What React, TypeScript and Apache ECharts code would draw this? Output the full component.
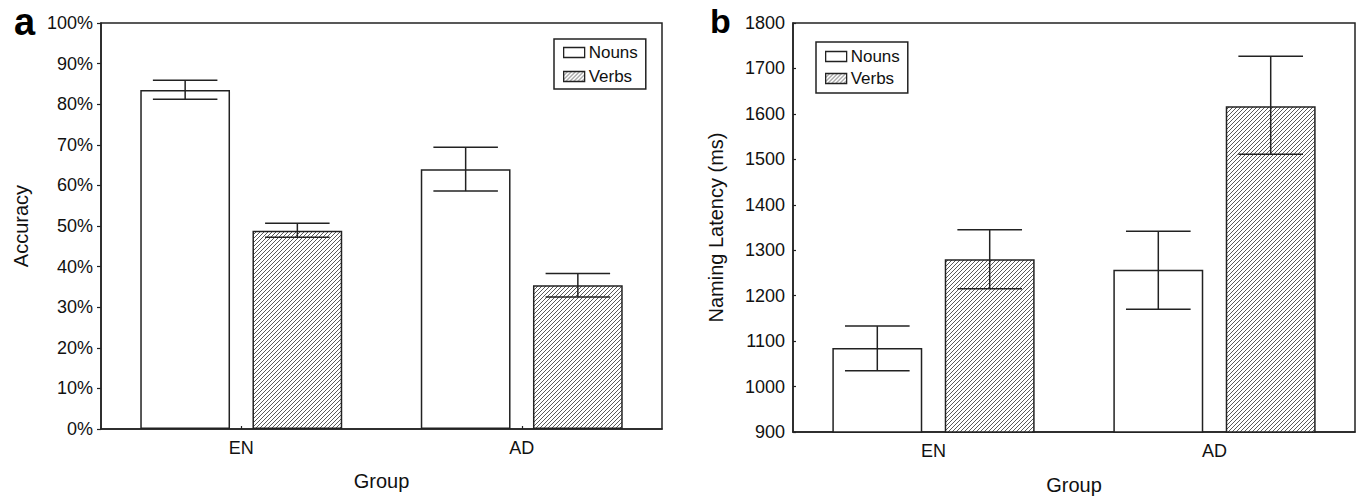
import React, { useEffect, useRef } from "react";
import * as echarts from "echarts";

const categories = ["EN", "AD"];
const seriesNames = ["Nouns", "Verbs"];

// Panel a: accuracy (%)
const accNouns = [83.5, 64.0];
const accNounsLow = [81.2, 58.6];
const accNounsHigh = [85.9, 69.4];
const accVerbs = [48.8, 35.4];
const accVerbsLow = [47.2, 32.5];
const accVerbsHigh = [50.7, 38.3];

// Panel b: naming latency (ms)
const latNouns = [1085, 1257];
const latNounsLow = [1035, 1170];
const latNounsHigh = [1133, 1342];
const latVerbs = [1280, 1617];
const latVerbsLow = [1215, 1511];
const latVerbsHigh = [1345, 1727];

const FONT = "'Liberation Sans', Arial, Helvetica, sans-serif";
const INK = "#222";
const TXT = "#111";

function makeHatch() {
  const c = document.createElement("canvas");
  const n = 4;
  c.width = n;
  c.height = n;
  const ctx = c.getContext("2d")!;
  ctx.fillStyle = "#ffffff";
  ctx.fillRect(0, 0, n, n);
  ctx.strokeStyle = "#5a5a5a";
  ctx.lineWidth = 1;
  ctx.beginPath();
  ctx.moveTo(0, n);
  ctx.lineTo(n, 0);
  ctx.moveTo(-1, 1);
  ctx.lineTo(1, -1);
  ctx.moveTo(n - 1, n + 1);
  ctx.lineTo(n + 1, n - 1);
  ctx.stroke();
  return c;
}

function errorRender(sign: number) {
  return (params: any, api: any) => {
    const idx = api.value(0);
    const lo = api.coord([idx, api.value(1)]);
    const hi = api.coord([idx, api.value(2)]);
    const band = api.size([1, 0])[0];
    const x = lo[0] + sign * 0.2 * band;
    const half = 0.115 * band;
    const style = { stroke: INK, lineWidth: 1.5 };
    return {
      type: "group",
      children: [
        { type: "line", shape: { x1: x, y1: lo[1], x2: x, y2: hi[1] }, style },
        { type: "line", shape: { x1: x - half, y1: lo[1], x2: x + half, y2: lo[1] }, style },
        { type: "line", shape: { x1: x - half, y1: hi[1], x2: x + half, y2: hi[1] }, style },
      ],
    };
  };
}

function errData(lows: number[], highs: number[]) {
  return categories.map((_, i) => [i, lows[i], highs[i]]);
}

export default function App() {
  const ref = useRef<HTMLDivElement>(null);

  useEffect(() => {
    if (!ref.current) return;
    const chart = echarts.init(ref.current, undefined, { renderer: "svg" });
    const hatch = { image: makeHatch(), repeat: "repeat" } as any;

    const nounStyle = { color: "#ffffff", borderColor: INK, borderWidth: 1.5 };
    const verbStyle = { color: hatch, borderColor: INK, borderWidth: 1.5 };

    const legendBase = (left: number, top: number, gap: number, pad: number[]) => ({
      orient: "vertical",
      left,
      top,
      icon: "rect",
      itemWidth: 21,
      itemHeight: 10,
      itemGap: gap,
      padding: pad,
      borderColor: INK,
      borderWidth: 1.5,
      backgroundColor: "#fff",
      selectedMode: false,
      textStyle: { fontFamily: FONT, fontSize: 17, color: TXT, padding: [0, 0, 0, -1] },
      data: [
        { name: "Nouns", itemStyle: { color: "#fff", borderColor: INK, borderWidth: 1.3 } },
        { name: "Verbs", itemStyle: { color: hatch, borderColor: INK, borderWidth: 1.3 } },
      ],
    });

    const xAxisBase = (gridIndex: number, ticks: boolean, margin: number, nameGap: number) => ({
      type: "category",
      gridIndex,
      data: categories,
      name: "Group",
      nameLocation: "middle",
      nameGap,
      nameTextStyle: { fontFamily: FONT, fontSize: 20, color: TXT },
      axisLine: { lineStyle: { color: INK, width: 1.5 } },
      axisTick: { show: ticks, alignWithLabel: true, inside: true, length: 3, lineStyle: { color: INK, width: 1.2 } },
      axisLabel: { fontFamily: FONT, fontSize: 18, color: TXT, margin },
      splitLine: { show: false },
    });

    const option: any = {
      animation: false,
      backgroundColor: "#ffffff",
      title: [
        { text: "a", left: 9, top: -2, textStyle: { fontFamily: FONT, fontSize: 38, fontWeight: "bold", color: "#000" } },
        { text: "b", left: 705, top: -1, textStyle: { fontFamily: FONT, fontSize: 34, fontWeight: "bold", color: "#000" } },
      ],
      legend: [legendBase(554, 39, 7, [5, 8, 4, 9]), legendBase(816, 42, 5, [6, 8, 6, 9])],
      grid: [
        { left: 101, top: 23, width: 561, height: 406, show: true, borderColor: INK, borderWidth: 1.5, backgroundColor: "transparent" },
        { left: 793, top: 23, width: 562, height: 409, show: true, borderColor: INK, borderWidth: 1.5, backgroundColor: "transparent" },
      ],
      xAxis: [xAxisBase(0, true, 10, 42), xAxisBase(1, false, 10, 43)],
      yAxis: [
        {
          type: "value",
          gridIndex: 0,
          min: 0,
          max: 100,
          interval: 10,
          name: "Accuracy",
          nameLocation: "middle",
          nameGap: 70,
          nameTextStyle: { fontFamily: FONT, fontSize: 20, color: TXT },
          axisLine: { show: true, lineStyle: { color: INK, width: 1.5 } },
          axisTick: { show: true, inside: false, length: 4, lineStyle: { color: INK, width: 1.2 } },
          axisLabel: { fontFamily: FONT, fontSize: 18, color: TXT, margin: 8, formatter: "{value}%" },
          splitLine: { show: false },
        },
        {
          type: "value",
          gridIndex: 1,
          min: 900,
          max: 1800,
          interval: 100,
          name: "Naming Latency (ms)",
          nameLocation: "middle",
          nameGap: 67,
          nameTextStyle: { fontFamily: FONT, fontSize: 20, color: TXT },
          axisLine: { show: true, lineStyle: { color: INK, width: 1.5 } },
          axisTick: { show: true, inside: true, length: 3, lineStyle: { color: INK, width: 1.2 } },
          axisLabel: { fontFamily: FONT, fontSize: 18, color: TXT, margin: 8, formatter: (v: number) => String(v) },
          splitLine: { show: false },
        },
      ],
      series: [
        { name: seriesNames[0], type: "bar", xAxisIndex: 0, yAxisIndex: 0, data: accNouns, barWidth: "32%", barGap: "25%", itemStyle: nounStyle },
        { name: seriesNames[1], type: "bar", xAxisIndex: 0, yAxisIndex: 0, data: accVerbs, barWidth: "32%", barGap: "25%", itemStyle: verbStyle },
        { name: seriesNames[0], type: "bar", xAxisIndex: 1, yAxisIndex: 1, data: latNouns, barWidth: "32%", barGap: "25%", itemStyle: nounStyle },
        { name: seriesNames[1], type: "bar", xAxisIndex: 1, yAxisIndex: 1, data: latVerbs, barWidth: "32%", barGap: "25%", itemStyle: verbStyle },
        { name: "errNounsA", type: "custom", xAxisIndex: 0, yAxisIndex: 0, renderItem: errorRender(-1), data: errData(accNounsLow, accNounsHigh), encode: { x: 0, y: [1, 2] }, z: 3 },
        { name: "errVerbsA", type: "custom", xAxisIndex: 0, yAxisIndex: 0, renderItem: errorRender(1), data: errData(accVerbsLow, accVerbsHigh), encode: { x: 0, y: [1, 2] }, z: 3 },
        { name: "errNounsB", type: "custom", xAxisIndex: 1, yAxisIndex: 1, renderItem: errorRender(-1), data: errData(latNounsLow, latNounsHigh), encode: { x: 0, y: [1, 2] }, z: 3 },
        { name: "errVerbsB", type: "custom", xAxisIndex: 1, yAxisIndex: 1, renderItem: errorRender(1), data: errData(latVerbsLow, latVerbsHigh), encode: { x: 0, y: [1, 2] }, z: 3 },
      ],
    };

    chart.setOption(option);
    return () => chart.dispose();
  }, []);

  return (
    <div
      ref={ref}
      style={{ position: "fixed", left: 0, top: 0, width: 1360, height: 500, background: "#fff" }}
    />
  );
}
